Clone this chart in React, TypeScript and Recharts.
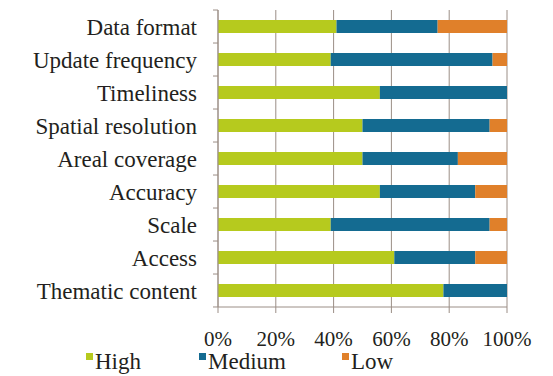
import { BarChart, Bar, XAxis, YAxis, CartesianGrid, Legend } from "recharts"

const categories = [
  "Data format",
  "Update frequency",
  "Timeliness",
  "Spatial resolution",
  "Areal coverage",
  "Accuracy",
  "Scale",
  "Access",
  "Thematic content",
]
const high = [41, 39, 56, 50, 50, 56, 39, 61, 78]
const medium = [35, 56, 44, 44, 33, 33, 55, 28, 22]
const low = [24, 5, 0, 6, 17, 11, 6, 11, 0]
const xTicks = [0, 20, 40, 60, 80, 100]

const series = [
  { key: "high", name: "High", color: "#b6ca1e", left: 86 },
  { key: "medium", name: "Medium", color: "#146b91", left: 199 },
  { key: "low", name: "Low", color: "#e0802a", left: 342 },
]

const data = categories.map((c, i) => ({
  category: c,
  high: high[i],
  medium: medium[i],
  low: low[i],
}))

const FONT = "Liberation Serif, DejaVu Serif, Times New Roman, serif"
const TEXT = "#231f20"
const AXIS = "#9b8e86"
const BAND = (306.5 - 10) / categories.length

function CategoryTick(props: any) {
  const { x, y, payload, index } = props
  const last = index === categories.length - 1
  return (
    <g>
      <text
        x={x - 16}
        y={y}
        dy="0.35em"
        textAnchor="end"
        fill={TEXT}
        fontSize={23}
        style={{ fontFamily: FONT }}
      >
        {payload.value}
      </text>
      <line x1={x} x2={x + 5} y1={y - BAND / 2} y2={y - BAND / 2} stroke={AXIS} />
      {last && <line x1={x} x2={x + 5} y1={y + BAND / 2} y2={y + BAND / 2} stroke={AXIS} />}
    </g>
  )
}

function LegendContent() {
  return (
    <div style={{ position: "relative", height: 32, fontFamily: FONT, fontSize: 23, color: TEXT }}>
      {series.map((s) => (
        <div
          key={s.key}
          style={{ position: "absolute", left: s.left, top: 7, display: "flex", alignItems: "flex-start", lineHeight: "22px" }}
        >
          <span
            style={{
              display: "inline-block",
              width: 7,
              height: 7,
              background: s.color,
              marginTop: 2,
              marginRight: 2,
            }}
          />
          <span>{s.name}</span>
        </div>
      ))}
    </div>
  )
}

export default function App() {
  return (
    <div style={{ position: "absolute", left: 0, top: 0, background: "#fff" }}>
      <BarChart
        width={553}
        height={376}
        data={data}
        layout="vertical"
        margin={{ top: 10, right: 46, left: 0, bottom: 0 }}
        barSize={13}
      >
        <CartesianGrid horizontal={false} stroke={AXIS} />
        <XAxis
          type="number"
          domain={[0, 100]}
          ticks={xTicks}
          tickFormatter={(v) => `${v}%`}
          stroke={AXIS}
          tickSize={6}
          tickMargin={18}
          height={37}
          tick={{ fill: TEXT, fontSize: 21, style: { fontFamily: FONT } }}
          interval={0}
        />
        <YAxis
          type="category"
          dataKey="category"
          width={218}
          stroke={AXIS}
          tickLine={false}
          tickSize={5}
          tickMargin={0}
          tick={<CategoryTick />}
          interval={0}
        />
        <Legend verticalAlign="bottom" height={32} content={<LegendContent />} />
        {series.map((s) => (
          <Bar key={s.key} dataKey={s.key} name={s.name} stackId="a" fill={s.color} isAnimationActive={false} />
        ))}
      </BarChart>
    </div>
  )
}
